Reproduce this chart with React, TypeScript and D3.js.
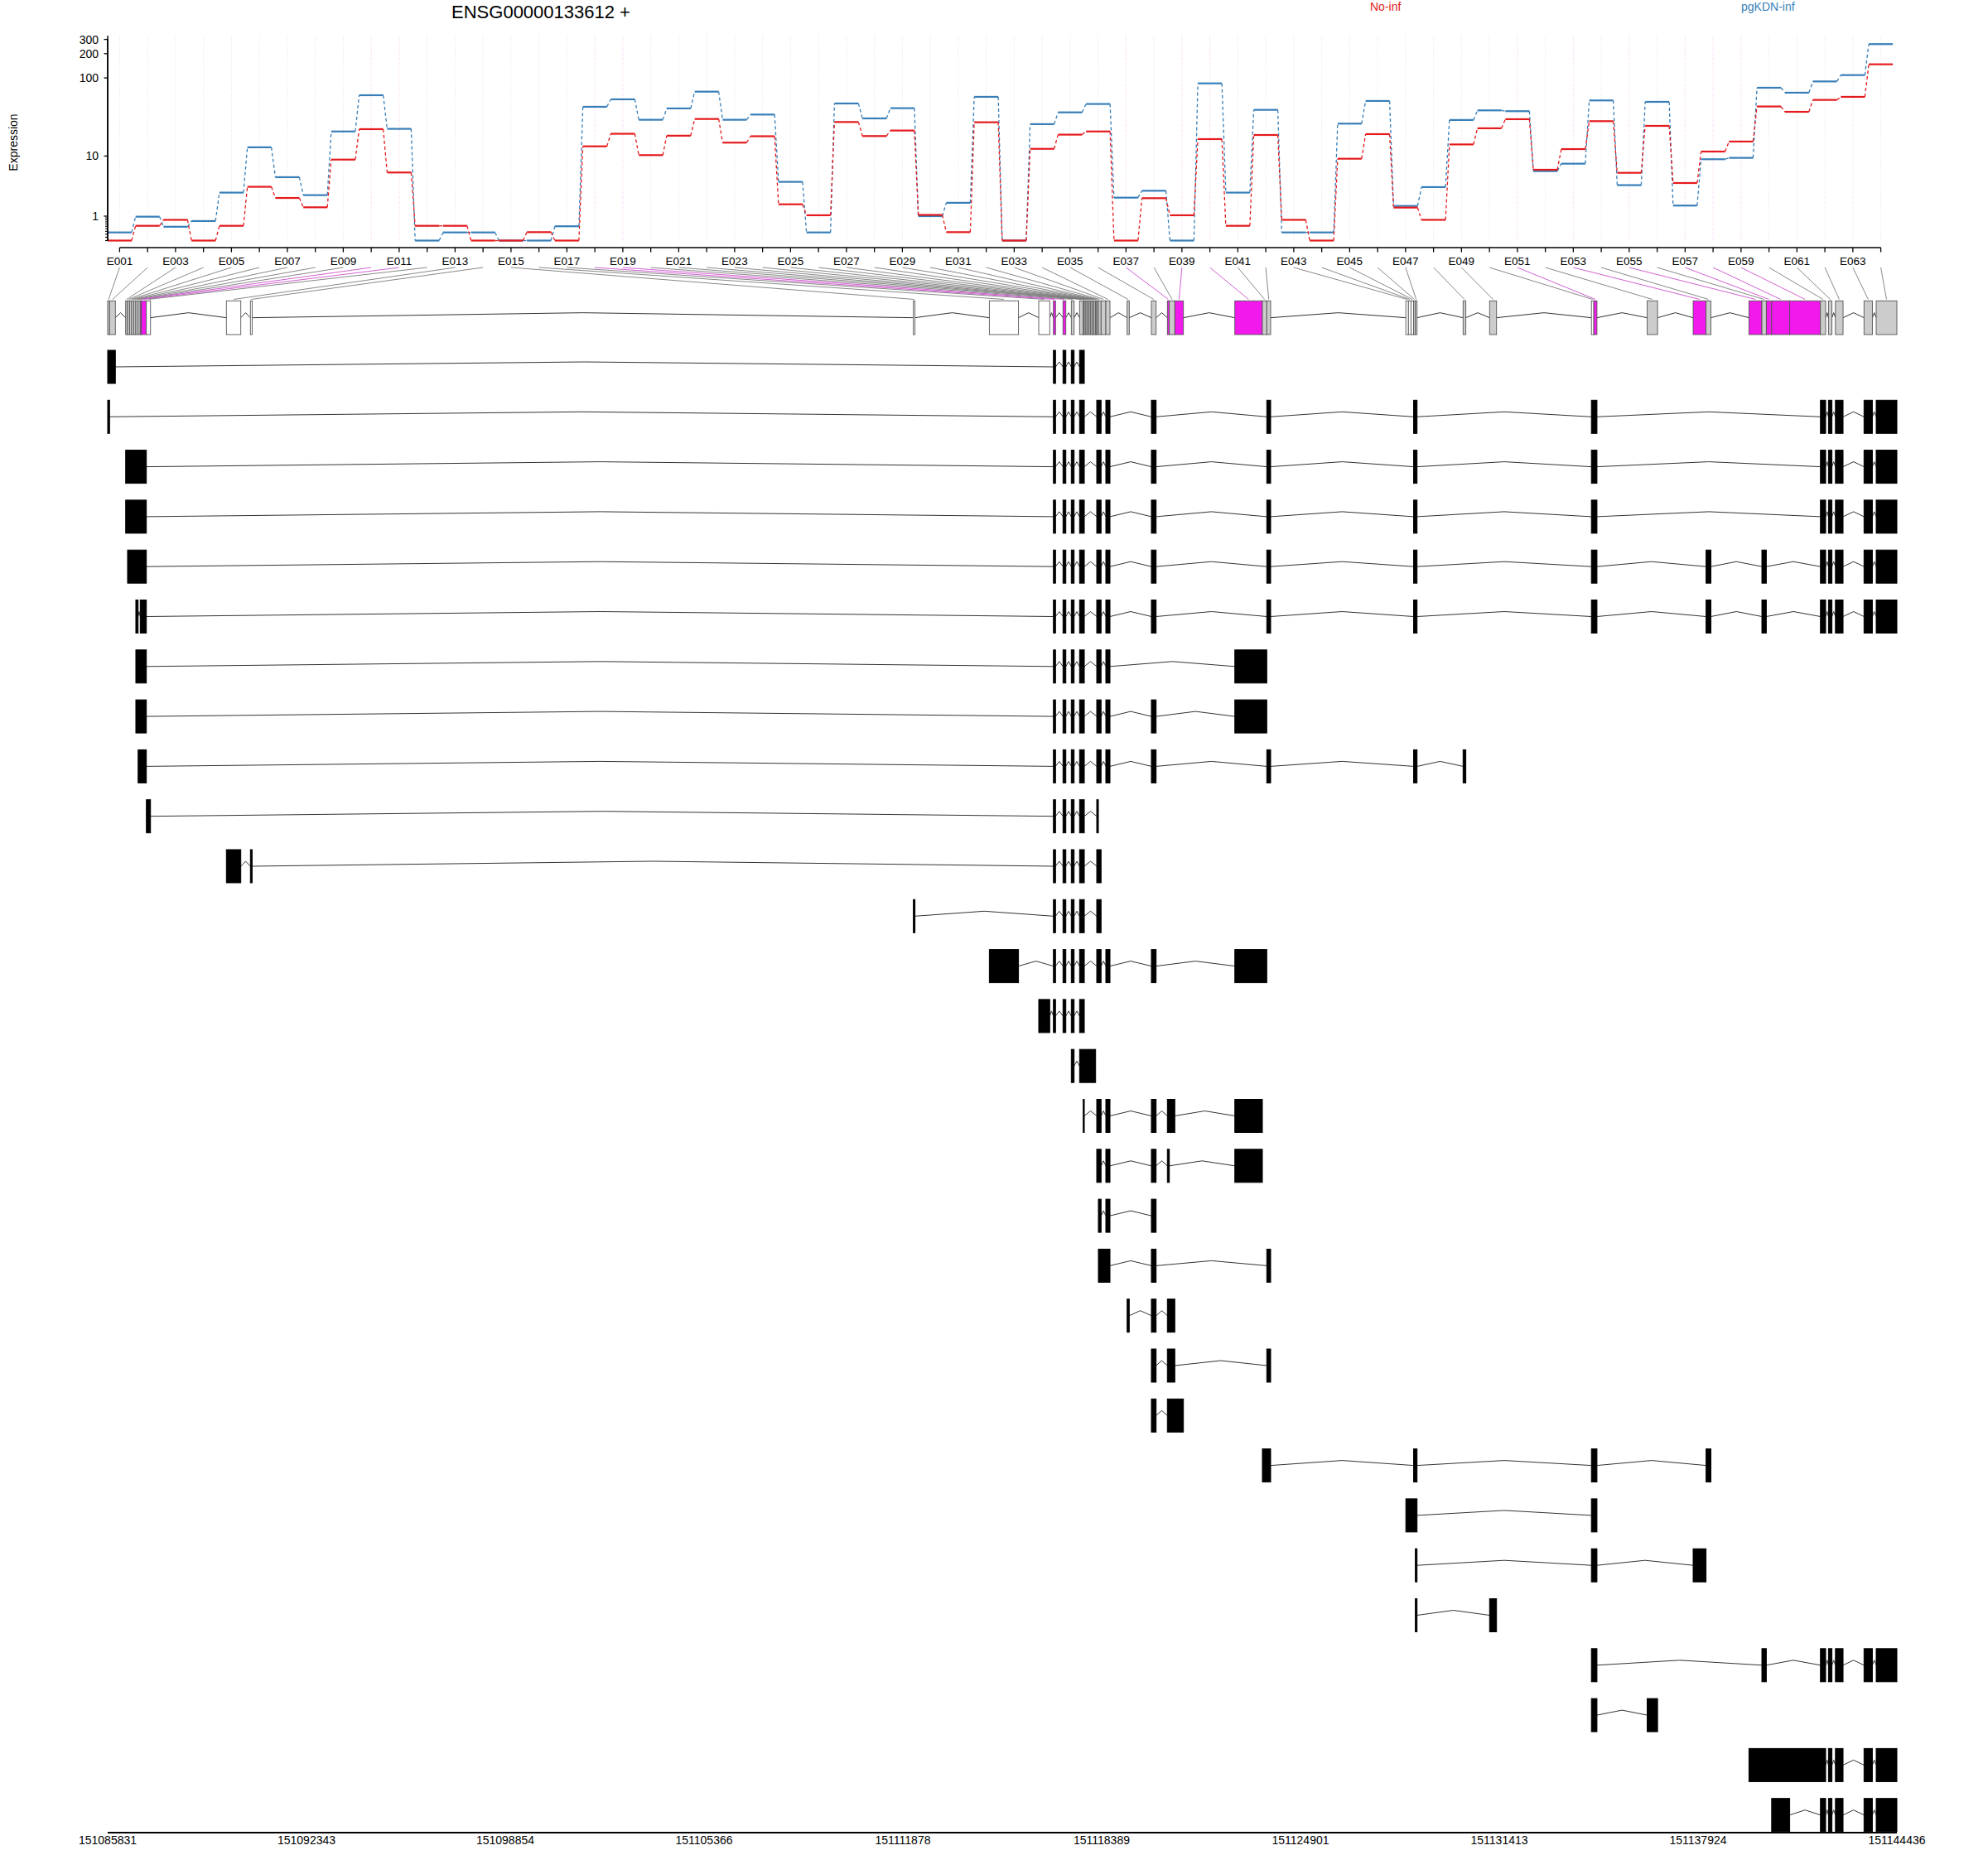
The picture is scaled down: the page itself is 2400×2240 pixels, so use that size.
import React from 'react';
import * as d3 from 'd3';

const exonIds: string[] = d3.range(1, 65).map((i) => 'E' + String(i).padStart(3, '0'));

const noInf: number[] = [
  0, 0.52, 0.8, 0, 0.52, 3.6, 2.35, 1.57, 8.95, 22.6,
  5.9, 0.52, 0.52, 0, 0, 0.27, 0, 13.5, 19.7, 10.3,
  18.6, 30.5, 15.1, 18.3, 1.8, 1.05, 27.9, 18.4, 21.7, 1.07,
  0.27, 27.7, 0, 12.5, 19.2, 21.1, 0, 2.33, 1.05, 16.8,
  0.52, 19.0, 0.8, 0, 9.2, 19.5, 1.55, 0.8, 14.3, 23.2,
  30.3, 6.46, 12.4, 28.6, 5.84, 24.9, 4.12, 11.5, 15.6, 43.9,
  37.6, 53.1, 58, 147.6,
];

const pgKDNinf: number[] = [
  0.26, 0.97, 0.48, 0.74, 2.9, 13.1, 5.04, 2.63, 21.1, 60.8,
  22.8, 0, 0.26, 0.26, 0, 0, 0.5, 43.5, 54, 29.8,
  41.5, 67.4, 29.8, 34.7, 4.29, 0.26, 47.9, 31, 41.8, 1.0,
  1.92, 58, 0, 26.2, 37, 47.2, 2.38, 3.11, 0, 85.5,
  2.9, 39.8, 0.26, 0.26, 26.6, 51.5, 1.67, 3.56, 29.6, 39.2,
  38.3, 6.18, 7.86, 52.3, 3.82, 50.2, 1.7, 9.05, 9.45, 75.4,
  65.4, 90.4, 108.4, 262.6,
];

// genomic start / end of each exon bin
const exonStart: number[] = [
  151085831, 151085893, 151086420, 151086482, 151086550, 151086618, 151086686, 151086753, 151086827, 151086897,
  151086930, 151087098, 151089719, 151090506, 151112220, 151114710, 151116327, 151116808, 151117122, 151117394,
  151117665, 151117784, 151117820, 151117873, 151117926, 151117979, 151118032, 151118085, 151118138, 151118191,
  151118227, 151118281, 151118370, 151118525, 151119222, 151120017, 151120541, 151120606, 151120785, 151122750,
  151123653, 151123797, 151128352, 151128436, 151128521, 151128605, 151128662, 151130227, 151131095, 151134430,
  151134509, 151136256, 151137762, 151138185, 151139590, 151140014, 151140160, 151140334, 151140925, 151141932,
  151142195, 151142423, 151143359, 151143758,
];
const exonEnd: number[] = [
  151085893, 151086083, 151086482, 151086550, 151086618, 151086686, 151086753, 151086827, 151086897, 151086930,
  151087098, 151087234, 151090191, 151090563, 151112274, 151115665, 151116688, 151116878, 151117215, 151117486,
  151117784, 151117820, 151117873, 151117926, 151117979, 151118032, 151118085, 151118138, 151118191, 151118227,
  151118281, 151118370, 151118525, 151118661, 151119293, 151120172, 151120606, 151120785, 151121067, 151123653,
  151123797, 151123924, 151128436, 151128521, 151128605, 151128662, 151128719, 151130317, 151131323, 151134509,
  151134612, 151136598, 151138185, 151138345, 151140014, 151140160, 151140334, 151140925, 151141932, 151142103,
  151142309, 151142673, 151143633, 151144436,
];

// s = significant, g = tested, n = not tested
const exonStatus: string[] = [
  'g', 'g', 'g', 'g', 'g', 'g', 'g', 'g', 'g', 's',
  's', 'n', 'n', 'n', 'n', 'n', 'n', 's', 's', 'g',
  'g', 'g', 'g', 'g', 'g', 'g', 'g', 'g', 'g', 'g',
  'g', 'g', 'g', 'g', 'g', 'g', 's', 'g', 's', 's',
  'g', 'g', 'n', 'n', 'n', 'g', 'g', 'g', 'g', 'n',
  's', 'g', 's', 'g', 's', 'g', 's', 's', 's', 'g',
  'g', 'g', 'g', 'g',
];

// transcripts: list of exons, each as [first bin, last bin] (1-based)
const transcripts: number[][][] = [
  [[1, 2], [18, 18], [19, 19], [20, 20], [21, 22]],
  [[1, 1], [18, 18], [19, 19], [20, 20], [21, 22], [31, 32], [34, 34], [36, 36], [42, 42], [46, 47], [50, 51], [60, 60], [61, 61], [62, 62], [63, 63], [64, 64]],
  [[3, 11], [18, 18], [19, 19], [20, 20], [21, 22], [31, 32], [34, 34], [36, 36], [42, 42], [46, 47], [50, 51], [60, 60], [61, 61], [62, 62], [63, 63], [64, 64]],
  [[3, 11], [18, 18], [19, 19], [20, 20], [21, 22], [31, 32], [34, 34], [36, 36], [42, 42], [46, 47], [50, 51], [60, 60], [61, 61], [62, 62], [63, 63], [64, 64]],
  [[4, 11], [18, 18], [19, 19], [20, 20], [21, 22], [31, 32], [34, 34], [36, 36], [42, 42], [46, 47], [50, 51], [54, 54], [56, 56], [60, 60], [61, 61], [62, 62], [63, 63], [64, 64]],
  [[8, 8], [10, 11], [18, 18], [19, 19], [20, 20], [21, 22], [31, 32], [34, 34], [36, 36], [42, 42], [46, 47], [50, 51], [54, 54], [56, 56], [60, 60], [61, 61], [62, 62], [63, 63], [64, 64]],
  [[8, 11], [18, 18], [19, 19], [20, 20], [21, 22], [31, 32], [34, 34], [40, 41]],
  [[8, 11], [18, 18], [19, 19], [20, 20], [21, 22], [31, 32], [34, 34], [36, 36], [40, 41]],
  [[9, 11], [18, 18], [19, 19], [20, 20], [21, 22], [31, 32], [34, 34], [36, 36], [42, 42], [46, 47], [48, 48]],
  [[12, 12], [18, 18], [19, 19], [20, 20], [21, 22], [31, 31]],
  [[13, 13], [14, 14], [18, 18], [19, 19], [20, 20], [21, 22], [31, 32]],
  [[15, 15], [18, 18], [19, 19], [20, 20], [21, 22], [31, 32]],
  [[16, 16], [18, 18], [19, 19], [20, 20], [21, 22], [31, 32], [34, 34], [36, 36], [40, 41]],
  [[17, 17], [18, 18], [19, 19], [20, 20], [21, 22]],
  [[20, 20], [21, 29]],
  [[22, 22], [31, 32], [34, 34], [36, 36], [37, 38], [40, 40]],
  [[31, 32], [34, 34], [36, 36], [37, 37], [40, 40]],
  [[32, 32], [34, 34], [36, 36]],
  [[32, 34], [36, 36], [42, 42]],
  [[35, 35], [36, 36], [37, 38]],
  [[36, 36], [37, 38], [42, 42]],
  [[36, 36], [37, 39]],
  [[41, 42], [46, 47], [50, 51], [54, 54]],
  [[43, 47], [50, 51]],
  [[47, 47], [50, 51], [53, 53]],
  [[47, 47], [49, 49]],
  [[50, 51], [56, 56], [60, 60], [61, 61], [62, 62], [63, 63], [64, 64]],
  [[50, 51], [52, 52]],
  [[55, 60], [61, 61], [62, 62], [63, 63], [64, 64]],
  [[58, 58], [60, 60], [61, 61], [62, 62], [63, 63], [64, 64]],
];

const yMajorTicks: number[] = [1, 10, 100, 200, 300];
const yMinorTicks: number[] = [0, 0.1, 0.2, 0.3, 0.4, 0.5, 0.6, 0.7, 0.8, 0.9];
const genomicTicks: number[] = [
  151085831, 151092343, 151098854, 151105366, 151111878,
  151118389, 151124901, 151131413, 151137924, 151144436,
];
const seriesNames: string[] = ['No-inf', 'pgKDN-inf'];
const title = 'ENSG00000133612 +';

const FONT = "'Liberation Sans', Arial, Helvetica, sans-serif";
const RED = '#E41A1C';
const BLUE = '#377EB8';
const MAGENTA = '#F219ED';

export default function App() {
  const W = 2400;
  const H = 2240;
  const tr = (v: number) => Math.log10(v + 1);
  const x = d3.scaleLinear().domain([1, 64]).range([144.4, 2270.6]);
  const y = d3.scaleLinear().domain([0, tr(332)]).range([290.5, 43.3]);
  const gx = d3.scaleLinear().domain([genomicTicks[0], genomicTicks[genomicTicks.length - 1]]).range([130, 2290]);
  const hw = 14.5;

  const gmTop = 363.3;
  const gmH = 40.7;
  const gmMid = gmTop + gmH / 2;
  const rowY0 = 443;
  const rowStep = 60.3;
  const exH = 40;
  const peak = 6;

  const fillFor = (s: string) => (s === 's' ? MAGENTA : s === 'g' ? '#CCCCCC' : '#FFFFFF');

  const seriesEls = (vals: number[], color: string, key: string) => {
    const els: React.ReactNode[] = [];
    vals.forEach((v, i) => {
      const xi = x(i + 1);
      els.push(
        <line key={key + 'h' + i} x1={xi - hw} x2={xi + hw} y1={y(tr(v))} y2={y(tr(v))} stroke={color} strokeWidth={2.2} />
      );
      if (i < vals.length - 1) {
        const xn = x(i + 2);
        els.push(
          <line key={key + 'd' + i} x1={xi + hw} x2={xn - hw} y1={y(tr(v))} y2={y(tr(vals[i + 1]))}
            stroke={color} strokeWidth={1.3} strokeDasharray="4,3" />
        );
      }
    });
    return els;
  };

  const intron = (x1: number, x2: number, cy: number, key: string) => {
    const xm = (x1 + x2) / 2;
    return (
      <polyline key={key} points={`${x1},${cy} ${xm},${cy - peak} ${x2},${cy}`} fill="none" stroke="#333" strokeWidth={1} />
    );
  };

  // gene model intron connectors
  const gmIntrons: React.ReactNode[] = [];
  for (let i = 0; i < 63; i++) {
    const a = gx(exonEnd[i]);
    const b = gx(exonStart[i + 1]);
    if (b - a > 0.6) gmIntrons.push(intron(a, b, gmMid, 'gi' + i));
  }

  return (
    <svg width={W} height={H} viewBox={`0 0 ${W} ${H}`} style={{ position: 'absolute', left: 0, top: 0, background: '#fff' }}
      fontFamily={FONT}>
      <rect x={0} y={0} width={W} height={H} fill="#fff" />
      {/* title and legend */}
      <text x={653} y={22} fontSize={22} textAnchor="middle" fill="#000">{title}</text>
      <text x={1654} y={13} fontSize={14} fill={RED}>{seriesNames[0]}</text>
      <text x={2102} y={13} fontSize={14} fill={BLUE}>{seriesNames[1]}</text>

      {/* grid lines */}
      {exonIds.map((id, i) => (
        <line key={'grid' + id} x1={x(i + 1)} x2={x(i + 1)} y1={43} y2={292}
          stroke={exonStatus[i] === 's' ? '#f3c6f0' : '#e2e2e2'} strokeWidth={1} strokeDasharray="1,2" />
      ))}

      {/* series */}
      {seriesEls(pgKDNinf, BLUE, 'b')}
      {seriesEls(noInf, RED, 'r')}

      {/* y axis */}
      <line x1={130} x2={130} y1={y(tr(300))} y2={y(0)} stroke="#000" strokeWidth={1.5} />
      <line x1={130} x2={130} y1={43.3} y2={y(0)} stroke="#000" strokeWidth={1.5} />
      {yMajorTicks.map((t) => (
        <g key={'yt' + t}>
          <line x1={125.5} x2={130} y1={y(tr(t))} y2={y(tr(t))} stroke="#000" strokeWidth={1.3} />
          <text x={119} y={y(tr(t)) + 5} fontSize={14} textAnchor="end">{t}</text>
        </g>
      ))}
      {yMinorTicks.map((t) => (
        <line key={'ym' + t} x1={127} x2={130} y1={y(tr(t))} y2={y(tr(t))} stroke="#000" strokeWidth={1.1} />
      ))}
      <text transform={`translate(21,172) rotate(-90)`} fontSize={14} textAnchor="middle">Expression</text>

      {/* x axis (exons) */}
      <line x1={x(1)} x2={x(64)} y1={299} y2={299} stroke="#000" strokeWidth={1.5} />
      {exonIds.map((id, i) => (
        <line key={'xt' + id} x1={x(i + 1)} x2={x(i + 1)} y1={299} y2={304.5} stroke="#000" strokeWidth={1.3} />
      ))}
      {exonIds.map((id, i) => (i % 2 === 0 ? (
        <text key={'xl' + id} x={x(i + 1)} y={319.5} fontSize={13.5} textAnchor="middle">{id}</text>
      ) : null))}

      {/* connectors from labels to gene model */}
      {exonIds.map((id, i) => (
        <line key={'cn' + id} x1={x(i + 1)} y1={323} x2={(gx(exonStart[i]) + gx(exonEnd[i])) / 2} y2={361.5}
          stroke={exonStatus[i] === 's' ? '#cc4fcc' : '#7a7a7a'} strokeWidth={0.9} />
      ))}

      {/* gene model */}
      {gmIntrons}
      {exonIds.map((id, i) => (
        <rect key={'gm' + id} x={gx(exonStart[i])} y={gmTop} width={Math.max(gx(exonEnd[i]) - gx(exonStart[i]), 0.8)} height={gmH}
          fill={fillFor(exonStatus[i])} stroke="#555" strokeWidth={0.9} />
      ))}

      {/* transcripts */}
      {transcripts.map((t, k) => {
        const cy = rowY0 + rowStep * k;
        const ex = t.map(([a, b]) => [gx(exonStart[a - 1]), gx(exonEnd[b - 1])]);
        return (
          <g key={'tx' + k}>
            {ex.slice(0, -1).map((e, j) => intron(e[1], ex[j + 1][0], cy, 'ti' + k + '_' + j))}
            {ex.map((e, j) => (
              <rect key={'te' + k + '_' + j} x={e[0]} y={cy - exH / 2} width={Math.max(e[1] - e[0], 1)} height={exH}
                fill="#000" stroke="#000" strokeWidth={1} />
            ))}
          </g>
        );
      })}

      {/* genomic axis */}
      <line x1={130} x2={2290} y1={2213} y2={2213} stroke="#000" strokeWidth={2} />
      {genomicTicks.map((g) => (
        <text key={'g' + g} x={gx(g)} y={2227} fontSize={14} textAnchor="middle">{g}</text>
      ))}
    </svg>
  );
}
